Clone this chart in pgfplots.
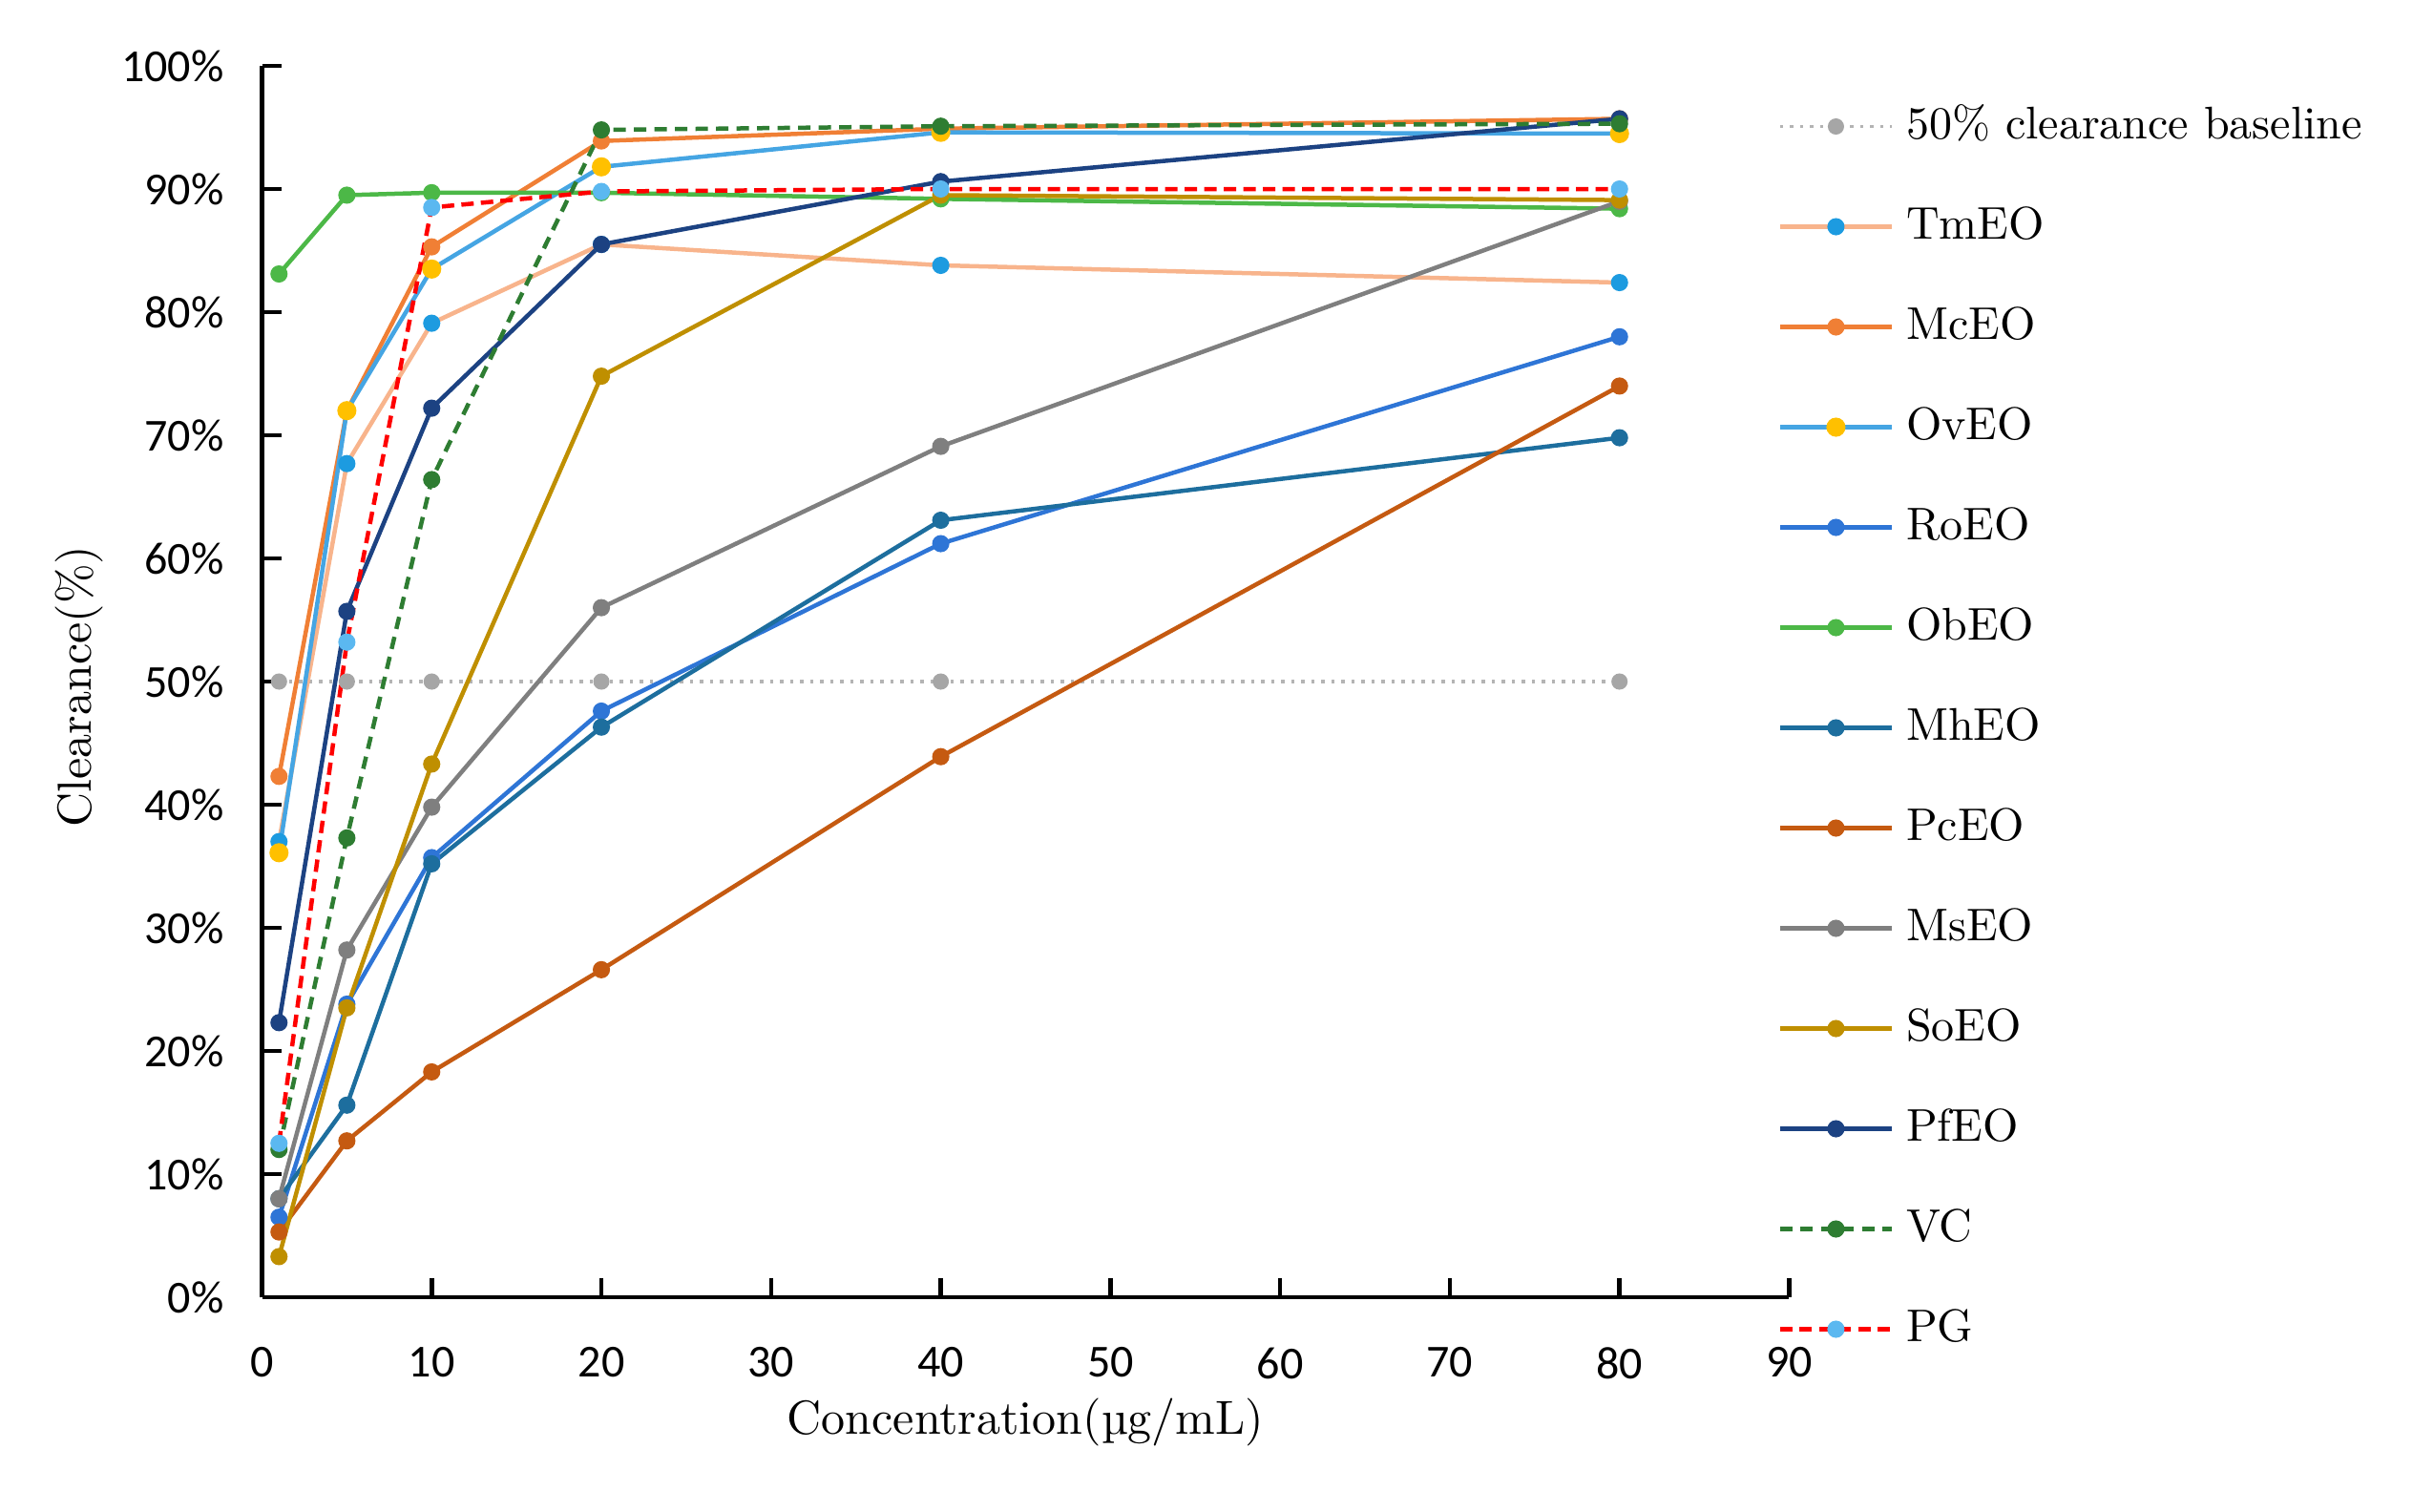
\documentclass[border=0pt]{standalone}
\usepackage{pgfplots}
\pgfplotsset{compat=1.18}
\usepackage{fontspec}
\newfontfamily\carlito{Carlito}

\definecolor{basegray}{RGB}{180,180,180}
\definecolor{basemark}{RGB}{166,166,166}
\definecolor{tmline}{RGB}{248,180,140}
\definecolor{tmmark}{RGB}{29,155,224}
\definecolor{mcc}{RGB}{240,127,53}
\definecolor{ovline}{RGB}{69,165,227}
\definecolor{ovmark}{RGB}{255,192,0}
\definecolor{roc}{RGB}{46,117,214}
\definecolor{obc}{RGB}{76,184,71}
\definecolor{mhc}{RGB}{29,110,158}
\definecolor{pcc}{RGB}{197,90,17}
\definecolor{msc}{RGB}{127,127,127}
\definecolor{soc}{RGB}{191,143,0}
\definecolor{pfc}{RGB}{28,66,130}
\definecolor{vcc}{RGB}{46,125,50}
\definecolor{pgmark}{RGB}{91,184,240}

\begin{document}
\begin{tikzpicture}
\begin{axis}[
  at={(54.9pt,44.8pt)}, anchor=south west,
  scale only axis,
  width=320pt, height=258pt,
  xmin=0, xmax=90, ymin=0, ymax=100,
  axis x line=bottom, axis y line=left,
  axis line style={-, line width=0.9pt, black},
  every tick/.style={black, line width=0.9pt},
  tick align=inside,
  major tick length=4pt,
  xtick={0,10,...,90},
  ytick={0,10,...,100},
  yticklabel={\pgfmathprintnumber{\tick}\%},
  /pgf/number format/assume math mode=true,
  tick label style={font=\fontsize{9.6}{11}\carlito},
  xticklabel style={yshift=-7pt},
  yticklabel style={xshift=-4.5pt},
  xlabel={Concentration(µg/mL)},
  ylabel={Clearance(\%)},
  label style={font=\fontsize{10}{12}\selectfont},
  xlabel style={at={(axis description cs:0.5,0)}, anchor=center, yshift=-26.2pt},
  ylabel style={at={(axis description cs:0,0.496)}, anchor=center, yshift=38.2pt},
  every axis plot/.append style={line width=0.9pt, mark=*, mark size=1.35pt},
  legend cell align=left,
  legend style={
    draw=none, fill=none, inner sep=0pt,
    at={(0.992,0.969)}, anchor=north west,
    font=\fontsize{9.6}{11}\selectfont,
    nodes={inner sep=0pt, text height=7pt, text depth=2pt},
    row sep=12pt, column sep=2.6pt,
  },
  legend image code/.code={
    \draw[mark repeat=2, mark phase=2, #1]
      plot coordinates {(0pt,0pt) (11.7pt,0pt) (23.4pt,0pt)};
  },
]
\addplot[color=basegray, line width=0.7pt, dash pattern=on 0.7pt off 1.4pt,
  mark options={solid, fill=basemark, draw=basemark}] coordinates {
  (1,50) (5,50) (10,50) (20,50) (40,50) (80,50) };
\addlegendentry{50\% clearance baseline}

\addplot[color=tmline, mark options={fill=tmmark, draw=tmmark}] coordinates {
  (1,37.0) (5,67.7) (10,79.1) (20,85.5) (40,83.8) (80,82.4) };
\addlegendentry{TmEO}

\addplot[color=mcc, mark options={fill=mcc}] coordinates {
  (1,42.3) (5,72.0) (10,85.3) (20,93.9) (40,94.9) (80,95.7) };
\addlegendentry{McEO}

\addplot[color=ovline, mark size=1.55pt, mark options={fill=ovmark, draw=ovmark}] coordinates {
  (1,36.1) (5,72.0) (10,83.5) (20,91.8) (40,94.6) (80,94.5) };
\addlegendentry{OvEO}

\addplot[color=roc, mark options={fill=roc}] coordinates {
  (1,6.5) (5,23.8) (10,35.7) (20,47.6) (40,61.2) (80,78.0) };
\addlegendentry{RoEO}

\addplot[color=obc, mark options={fill=obc}] coordinates {
  (1,83.1) (5,89.5) (10,89.7) (20,89.7) (40,89.2) (80,88.4) };
\addlegendentry{ObEO}

\addplot[color=mhc, mark options={fill=mhc}] coordinates {
  (1,8.0) (5,15.6) (10,35.2) (20,46.3) (40,63.1) (80,69.8) };
\addlegendentry{MhEO}

\addplot[color=pcc, mark options={fill=pcc}] coordinates {
  (1,5.3) (5,12.7) (10,18.3) (20,26.6) (40,43.9) (80,74.0) };
\addlegendentry{PcEO}

\addplot[color=msc, mark options={fill=msc}] coordinates {
  (1,8.0) (5,28.2) (10,39.8) (20,56.0) (40,69.1) (80,89.0) };
\addlegendentry{MsEO}

\addplot[color=soc, mark options={fill=soc}] coordinates {
  (1,3.3) (5,23.5) (10,43.3) (20,74.8) (40,89.5) (80,89.1) };
\addlegendentry{SoEO}

\addplot[color=pfc, mark options={fill=pfc}] coordinates {
  (1,22.3) (5,55.7) (10,72.2) (20,85.5) (40,90.6) (80,95.7) };
\addlegendentry{PfEO}

\addplot[color=vcc, dash pattern=on 2.6pt off 1.7pt,
  mark options={solid, fill=vcc}] coordinates {
  (1,12.0) (5,37.3) (10,66.4) (20,94.8) (40,95.1) (80,95.3) };
\addlegendentry{VC}

\addplot[color=red, dash pattern=on 2.6pt off 1.5pt,
  mark options={solid, fill=pgmark, draw=pgmark}] coordinates {
  (1,12.5) (5,53.2) (10,88.5) (20,89.8) (40,90.0) (80,90.0) };
\addlegendentry{PG}
\end{axis}
\pgfresetboundingbox
\path[use as bounding box] (0,0) rectangle (510pt,316.6pt);
\end{tikzpicture}
\end{document}
